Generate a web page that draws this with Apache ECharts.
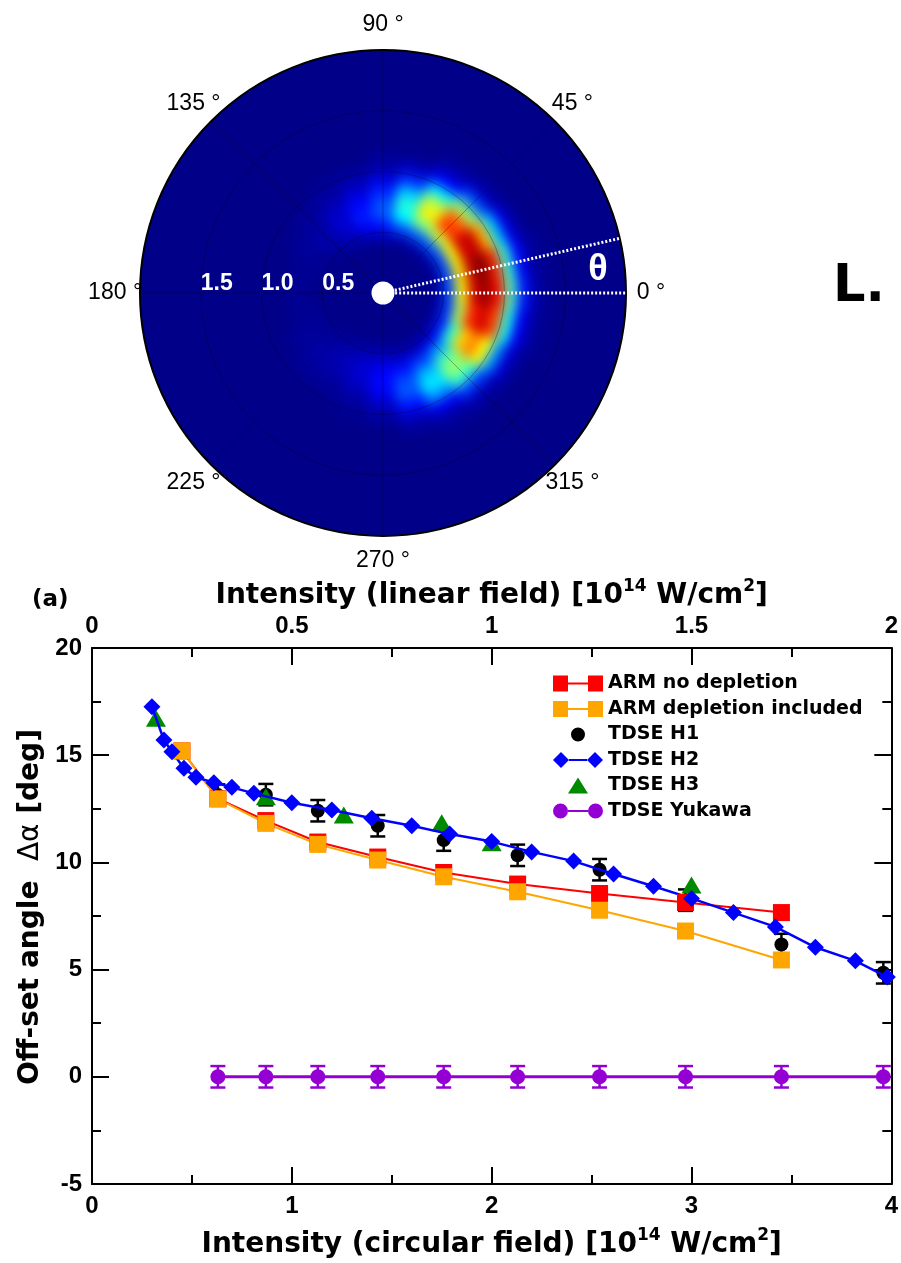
<!DOCTYPE html>
<html>
<head>
<meta charset="utf-8">
<script src="https://cdn.jsdelivr.net/npm/echarts@6/dist/echarts.min.js"></script>
<style>
  html, body { margin: 0; padding: 0; background: #ffffff; }
  #wrap { position: relative; width: 901px; height: 1263px; }
  /* smooth photoelectron map: blurred sectors, cut to the detector disk */
  #heat {
    position: absolute; left: 0; top: 0; width: 901px; height: 1263px;
    background: #000088;
    filter: blur(6px);
    clip-path: circle(243px at 383px 293px);
  }
  #main { position: absolute; left: 0; top: 0; width: 901px; height: 1263px; }
</style>
</head>
<body>
<div id="wrap">
  <div id="heat"></div>
  <div id="main"></div>
</div>
<script>
// ---------- top panel: momentum distribution in the polarisation plane ----------
const heatAngles = [0, 15, 30, 45, 60, 75, 90, 105, 120, 135, 150, 165,
                    180, 195, 210, 225, 240, 255, 270, 285, 300, 315, 330, 345];
const heatRadii = [0.35, 0.45, 0.55, 0.65, 0.75, 0.85, 0.95, 1.05, 1.15, 1.25, 1.35];
// relative yield, one row per angle (columns follow heatRadii)
const heatValues = [
  [0.00, 0.02, 0.20, 0.62, 0.92, 0.98, 0.86, 0.45, 0.15, 0.04, 0.01],
  [0.00, 0.02, 0.20, 0.64, 0.94, 1.00, 0.84, 0.42, 0.13, 0.03, 0.01],
  [0.00, 0.02, 0.20, 0.62, 0.92, 0.93, 0.70, 0.33, 0.10, 0.02, 0.00],
  [0.00, 0.03, 0.22, 0.58, 0.83, 0.78, 0.52, 0.22, 0.06, 0.01, 0.00],
  [0.00, 0.03, 0.22, 0.50, 0.64, 0.56, 0.35, 0.13, 0.04, 0.01, 0.00],
  [0.00, 0.03, 0.20, 0.37, 0.41, 0.32, 0.17, 0.06, 0.01, 0.00, 0.00],
  [0.00, 0.04, 0.14, 0.21, 0.20, 0.15, 0.08, 0.03, 0.01, 0.00, 0.00],
  [0.00, 0.03, 0.11, 0.15, 0.13, 0.08, 0.04, 0.01, 0.00, 0.00, 0.00],
  [0.00, 0.02, 0.06, 0.08, 0.07, 0.04, 0.02, 0.01, 0.00, 0.00, 0.00],
  [0.00, 0.01, 0.03, 0.04, 0.03, 0.02, 0.01, 0.00, 0.00, 0.00, 0.00],
  [0.00, 0.00, 0.01, 0.02, 0.02, 0.01, 0.00, 0.00, 0.00, 0.00, 0.00],
  [0.00, 0.00, 0.01, 0.01, 0.01, 0.00, 0.00, 0.00, 0.00, 0.00, 0.00],
  [0.00, 0.00, 0.00, 0.01, 0.01, 0.00, 0.00, 0.00, 0.00, 0.00, 0.00],
  [0.00, 0.00, 0.01, 0.01, 0.01, 0.00, 0.00, 0.00, 0.00, 0.00, 0.00],
  [0.00, 0.00, 0.01, 0.02, 0.02, 0.01, 0.00, 0.00, 0.00, 0.00, 0.00],
  [0.00, 0.01, 0.02, 0.03, 0.03, 0.02, 0.01, 0.00, 0.00, 0.00, 0.00],
  [0.00, 0.01, 0.04, 0.05, 0.04, 0.02, 0.01, 0.00, 0.00, 0.00, 0.00],
  [0.00, 0.02, 0.06, 0.08, 0.07, 0.04, 0.02, 0.01, 0.00, 0.00, 0.00],
  [0.00, 0.02, 0.07, 0.12, 0.13, 0.10, 0.05, 0.02, 0.00, 0.00, 0.00],
  [0.00, 0.01, 0.06, 0.14, 0.20, 0.21, 0.14, 0.06, 0.02, 0.00, 0.00],
  [0.00, 0.01, 0.07, 0.19, 0.31, 0.36, 0.27, 0.11, 0.03, 0.01, 0.00],
  [0.00, 0.02, 0.10, 0.28, 0.46, 0.53, 0.43, 0.19, 0.05, 0.01, 0.00],
  [0.00, 0.02, 0.15, 0.42, 0.67, 0.75, 0.62, 0.28, 0.08, 0.02, 0.00],
  [0.00, 0.02, 0.18, 0.55, 0.84, 0.92, 0.80, 0.40, 0.12, 0.03, 0.01]
];
const heatAngleStep = 15;
const heatRadiusStep = 0.1;
const offsetAngleMark = 13;          // direction of the distribution maximum (deg)
const thetaLabelPos = [1.78, 6.2];   // [radius, angle] of the θ symbol
const angleLabelTicks = [0, 45, 90, 135, 180, 225, 270, 315];
const angleLabelRadius = 2.205;      // angle labels sit just outside the rim
const radialTicks = [0.5, 1.0, 1.5];

// ---------- bottom panel: off-set angle vs. intensity ----------
const armX = [0.45, 0.63, 0.87, 1.13, 1.43, 1.76, 2.13, 2.54, 2.97, 3.45];
const armNoDepletion = [15.2, 12.97, 11.95, 10.95, 10.25, 9.53, 8.99, 8.55, 8.13, 7.66];
const armDepletion   = [15.2, 12.96, 11.82, 10.84, 10.11, 9.33, 8.63, 7.77, 6.80, 5.45];

const tdseX = [0.63, 0.87, 1.13, 1.43, 1.76, 2.13, 2.54, 2.97, 3.45, 3.96];
const tdseH1 = [13.14, 13.16, 12.41, 11.71, 11.04, 10.33, 9.66, 8.24, 6.17, 4.85];
const tdseH1Err = [0.5, 0.5, 0.5, 0.5, 0.5, 0.5, 0.5, 0.5, 0.5, 0.5];

const h2X = [0.30, 0.36, 0.40, 0.46, 0.52, 0.61, 0.70, 0.81, 1.00, 1.20, 1.40, 1.60,
             1.79, 2.00, 2.20, 2.41, 2.61, 2.81, 3.00, 3.21, 3.42, 3.62, 3.82, 3.98];
const tdseH2 = [17.26, 15.71, 15.16, 14.39, 13.97, 13.72, 13.50, 13.22, 12.78, 12.44, 12.06, 11.71,
                11.32, 10.97, 10.49, 10.06, 9.46, 8.89, 8.32, 7.66, 6.99, 6.04, 5.41, 4.65];

const h3X = [0.32, 0.87, 1.26, 1.75, 2.00, 3.00];
const tdseH3 = [16.72, 13.06, 12.21, 11.85, 10.92, 8.95];

const tdseYukawa = [0, 0, 0, 0, 0, 0, 0, 0, 0, 0];
const tdseYukawaErr = [0.5, 0.5, 0.5, 0.5, 0.5, 0.5, 0.5, 0.5, 0.5, 0.5];

const circTicks = [0, 1, 2, 3, 4];
const linTicks = [0, 0.5, 1, 1.5, 2];
const angleTicks = [-5, 0, 5, 10, 15, 20];

// jet colour map
const jet = ['#000088', '#0000ff', '#0080ff', '#00ffff', '#80ff80',
             '#ffff00', '#ff8000', '#ff0000', '#800000'];

const zip = (xs, ys) => xs.map((x, i) => [x, ys[i]]);

// ================= heat map layer =================
const heatData = [];
heatAngles.forEach((a, i) => {
  heatRadii.forEach((r, j) => heatData.push([r, a, heatValues[i][j]]));
});

const heatChart = echarts.init(document.getElementById('heat'), null, { renderer: 'canvas' });
heatChart.setOption({
  animation: false,
  polar: { center: [383, 293], radius: 243 },
  angleAxis: { type: 'value', min: 0, max: 360, startAngle: 0, clockwise: false, show: false },
  radiusAxis: { type: 'value', min: 0, max: 2, show: false },
  visualMap: {
    show: false, type: 'continuous', min: 0, max: 1, dimension: 2,
    seriesIndex: 0, inRange: { color: jet }
  },
  series: [{
    type: 'custom',
    coordinateSystem: 'polar',
    data: heatData,
    encode: { radius: 0, angle: 1 },
    renderItem: function (params, api) {
      const r = api.value(0), a = api.value(1);
      const cs = params.coordSys;
      const cx = cs.cx, cy = cs.cy;
      const pIn = api.coord([r - heatRadiusStep / 2, a]);
      const pOut = api.coord([r + heatRadiusStep / 2, a]);
      const half = heatAngleStep * 0.52;
      const pS = api.coord([r, a - half]);
      const pE = api.coord([r, a + half]);
      return {
        type: 'sector',
        shape: {
          cx: cx, cy: cy,
          r0: Math.hypot(pIn[0] - cx, pIn[1] - cy),
          r: Math.hypot(pOut[0] - cx, pOut[1] - cy) + 0.5,
          startAngle: Math.atan2(pS[1] - cy, pS[0] - cx),
          endAngle: Math.atan2(pE[1] - cy, pE[0] - cx),
          clockwise: false
        },
        style: { fill: api.visual('color') }
      };
    }
  }]
});

// ================= main layer =================
const boldNum = { fontFamily: 'Liberation Sans', fontWeight: 'bold', fontSize: 24, color: '#000' };
const titleFont = { fontFamily: 'DejaVu Sans', fontWeight: 'bold', fontSize: 28, color: '#000' };
const titleBase = Object.assign({ verticalAlign: 'bottom', lineHeight: 32 }, titleFont);
const supStyle = {
  fontFamily: 'DejaVu Sans', fontWeight: 'bold', fontSize: 17, color: '#000',
  lineHeight: 20, padding: [0, 0, 18, 0], verticalAlign: 'top'
};

const iconRectLine = 'path://M0,0H15V16H0Z M15,7H35V9H15Z M35,0H50V16H35Z';
const iconDiamondLine = 'path://M8,0L16,8L8,16L0,8Z M16,7H34V9H16Z M42,0L50,8L42,16L34,8Z';
const iconDot = 'path://M0,0H0.01V0.01H0Z M50,16H49.99V15.99H50Z M18,8A7,7,0,1,0,32,8A7,7,0,1,0,18,8Z';
const iconTriangle = 'path://M0,0H0.01V0.01H0Z M50,16H49.99V15.99H50Z M25,0L35,16H15Z';
const iconCircleLine = 'path://M0,8A7.5,7.5,0,1,0,15,8A7.5,7.5,0,1,0,0,8Z M15,7H35V9H15Z M35,8A7.5,7.5,0,1,0,50,8A7.5,7.5,0,1,0,35,8Z';

function errorBars(name, xs, ys, errs, color, width, capHalf) {
  return {
    type: 'custom',
    name: name,
    xAxisIndex: 0, yAxisIndex: 0,
    data: xs.map((x, i) => [x, ys[i] - errs[i], ys[i] + errs[i]]),
    encode: { x: 0, y: [1, 2] },
    renderItem: function (params, api) {
      const lo = api.coord([api.value(0), api.value(1)]);
      const hi = api.coord([api.value(0), api.value(2)]);
      const st = { stroke: color, lineWidth: width };
      return {
        type: 'group',
        children: [
          { type: 'line', shape: { x1: lo[0], y1: lo[1], x2: hi[0], y2: hi[1] }, style: st },
          { type: 'line', shape: { x1: lo[0] - capHalf, y1: lo[1], x2: lo[0] + capHalf, y2: lo[1] }, style: st },
          { type: 'line', shape: { x1: hi[0] - capHalf, y1: hi[1], x2: hi[0] + capHalf, y2: hi[1] }, style: st }
        ]
      };
    }
  };
}

const tickCommon = {
  axisLine: { show: true, onZero: false, lineStyle: { color: '#000', width: 2 } },
  axisTick: { show: true, inside: true, length: 17, lineStyle: { color: '#000', width: 2 } },
  minorTick: { show: true, splitNumber: 2, length: 9, lineStyle: { color: '#000', width: 2 } },
  splitLine: { show: false },
  minorSplitLine: { show: false }
};

const mainChart = echarts.init(document.getElementById('main'), null, { renderer: 'canvas' });
mainChart.setOption({
  animation: false,
  backgroundColor: 'transparent',
  textStyle: { fontFamily: 'Liberation Sans' },
  graphic: [
    { type: 'text', left: 32, top: 589, style: { text: '(a)', font: 'bold 23px "DejaVu Sans"', fill: '#000' } },
    { type: 'text', left: 833, top: 262, style: { text: 'L.', font: 'bold 51px "DejaVu Sans"', fill: '#000' } }
  ],
  polar: [
    { center: [383, 293], radius: 243 },
    { center: [383, 293], radius: 243 }
  ],
  angleAxis: [
    {
      polarIndex: 0, type: 'value', min: 0, max: 360, interval: 45,
      startAngle: 0, clockwise: false,
      axisLine: { show: true, lineStyle: { color: '#000', width: 2 } },
      axisTick: { show: false },
      axisLabel: { show: false },
      splitLine: { show: true, lineStyle: { color: 'rgba(0,0,30,0.3)', width: 1 } }
    },
    {
      polarIndex: 1, type: 'value', min: 0, max: 360, startAngle: 180, clockwise: false, show: false
    }
  ],
  radiusAxis: [
    {
      polarIndex: 0, type: 'value', min: 0, max: 2, interval: 0.5,
      axisLine: { show: false }, axisTick: { show: false }, axisLabel: { show: false },
      splitLine: { show: true, lineStyle: { color: 'rgba(0,0,30,0.3)', width: 1 } }
    },
    {
      polarIndex: 1, type: 'value', min: 0, max: 2, interval: 0.5,
      axisLine: { show: false }, axisTick: { show: false }, splitLine: { show: false },
      axisLabel: {
        show: true, color: '#fff', fontWeight: 'bold', fontSize: 23, fontFamily: 'Liberation Sans',
        align: 'left', verticalAlign: 'bottom', margin: 2,
        formatter: v => (radialTicks.some(t => Math.abs(t - v) < 1e-9) ? v.toFixed(1) : '')
      }
    }
  ],
  grid: { left: 92, top: 648, width: 801, height: 536 },
  xAxis: [
    Object.assign({
      type: 'value', position: 'bottom', min: circTicks[0], max: circTicks[circTicks.length - 1], interval: 1,
      axisLabel: Object.assign({ margin: 10 }, boldNum),
      name: '{b|Intensity (circular field) [10}{s|14}{b| W/cm}{s|2}{b|]}',
      nameLocation: 'middle', nameGap: 43,
      nameTextStyle: Object.assign({ rich: { b: titleBase, s: supStyle } }, titleFont)
    }, tickCommon),
    Object.assign({
      type: 'value', position: 'top', min: linTicks[0], max: linTicks[linTicks.length - 1], interval: 0.5,
      axisLabel: Object.assign({ margin: 10 }, boldNum),
      name: '{b|Intensity (linear field) [10}{s|14}{b| W/cm}{s|2}{b|]}',
      nameLocation: 'middle', nameGap: 32,
      nameTextStyle: Object.assign({ rich: { b: titleBase, s: supStyle } }, titleFont)
    }, tickCommon)
  ],
  yAxis: [
    Object.assign({
      type: 'value', position: 'left', min: angleTicks[0], max: angleTicks[angleTicks.length - 1], interval: 5,
      axisLabel: Object.assign({ margin: 10 }, boldNum),
      name: '{b|Off-set angle  }{g|Δα}{b| [deg]}',
      nameLocation: 'middle', nameGap: 47,
      nameTextStyle: Object.assign({
        padding: [0, 0, 0, 18],
        rich: {
          b: titleFont,
          g: { fontFamily: 'DejaVu Sans', fontWeight: 'normal', fontSize: 28, color: '#000' }
        }
      }, titleFont)
    }, tickCommon),
    Object.assign({
      type: 'value', position: 'right', min: angleTicks[0], max: angleTicks[angleTicks.length - 1], interval: 5,
      axisLabel: { show: false }
    }, tickCommon)
  ],
  legend: {
    orient: 'vertical', left: 548, top: 669,
    itemWidth: 50, itemHeight: 16, itemGap: 6.5,
    itemStyle: { borderWidth: 0 },
    textStyle: { fontFamily: 'DejaVu Sans', fontWeight: 'bold', fontSize: 19, color: '#000', padding: [0, 0, 0, 0] },
    data: [
      { name: 'ARM no depletion', icon: iconRectLine },
      { name: 'ARM depletion included', icon: iconRectLine },
      { name: 'TDSE H1', icon: iconDot },
      { name: 'TDSE H2', icon: iconDiamondLine },
      { name: 'TDSE H3', icon: iconTriangle },
      { name: 'TDSE Yukawa', icon: iconCircleLine }
    ]
  },
  series: [
    // --- polar overlays ---
    {
      type: 'scatter', coordinateSystem: 'polar', polarIndex: 0, silent: true, clip: false,
      data: angleLabelTicks.map(a => [angleLabelRadius, a]),
      symbolSize: 1, itemStyle: { color: 'rgba(0,0,0,0)', opacity: 1 },
      label: {
        show: true, position: 'inside', color: '#000', opacity: 1,
        fontSize: 23, fontFamily: 'Liberation Sans',
        formatter: p => p.value[1] + ' °'
      }
    },
    {
      type: 'line', coordinateSystem: 'polar', polarIndex: 0, silent: true,
      data: [[0.1, 0], [2, 0]], symbol: 'none',
      lineStyle: { color: '#fff', width: 3, type: [2, 2] }
    },
    {
      type: 'line', coordinateSystem: 'polar', polarIndex: 0, silent: true,
      data: [[0.1, offsetAngleMark], [2, offsetAngleMark]], symbol: 'none',
      lineStyle: { color: '#fff', width: 3, type: [2, 2] }
    },
    {
      type: 'scatter', coordinateSystem: 'polar', polarIndex: 0, silent: true,
      data: [[0, 0]], symbol: 'circle', symbolSize: 23,
      itemStyle: { color: '#ffffff', opacity: 1 }
    },
    {
      type: 'scatter', coordinateSystem: 'polar', polarIndex: 0, silent: true,
      data: [thetaLabelPos], symbolSize: 1, itemStyle: { color: 'rgba(0,0,0,0)', opacity: 1 },
      label: {
        show: true, position: 'inside', formatter: 'θ', color: '#ffffff', opacity: 1,
        fontSize: 36, fontWeight: 'bold', fontFamily: 'Liberation Sans'
      }
    },
    // --- off-set angle curves ---
    {
      name: 'ARM no depletion', type: 'line', data: zip(armX, armNoDepletion),
      symbol: 'rect', symbolSize: 17, color: '#ff0000',
      lineStyle: { color: '#ff0000', width: 2 }
    },
    {
      name: 'ARM depletion included', type: 'line', data: zip(armX, armDepletion),
      symbol: 'rect', symbolSize: 17, color: '#ffa500',
      lineStyle: { color: '#ffa500', width: 2 }
    },
    errorBars('H1 error', tdseX, tdseH1, tdseH1Err, '#000', 2.5, 7.5),
    {
      name: 'TDSE H1', type: 'scatter', data: zip(tdseX, tdseH1),
      symbol: 'circle', symbolSize: 14, color: '#000', itemStyle: { opacity: 1 }
    },
    {
      name: 'TDSE H2', type: 'line', data: zip(h2X, tdseH2),
      symbol: 'diamond', symbolSize: 17, color: '#0000ff',
      lineStyle: { color: '#0000ff', width: 2.5 }
    },
    {
      name: 'TDSE H3', type: 'scatter', data: zip(h3X, tdseH3),
      symbol: 'triangle', symbolSize: [20, 17], color: '#008a00', itemStyle: { opacity: 1 }
    },
    {
      name: 'TDSE Yukawa', type: 'line', data: zip(tdseX, tdseYukawa),
      symbol: 'circle', symbolSize: 15, color: '#9400d3',
      lineStyle: { color: '#9400d3', width: 3 }
    },
    errorBars('Yukawa error', tdseX, tdseYukawa, tdseYukawaErr, '#9400d3', 2.5, 7.5)
  ]
});
</script>
</body>
</html>
